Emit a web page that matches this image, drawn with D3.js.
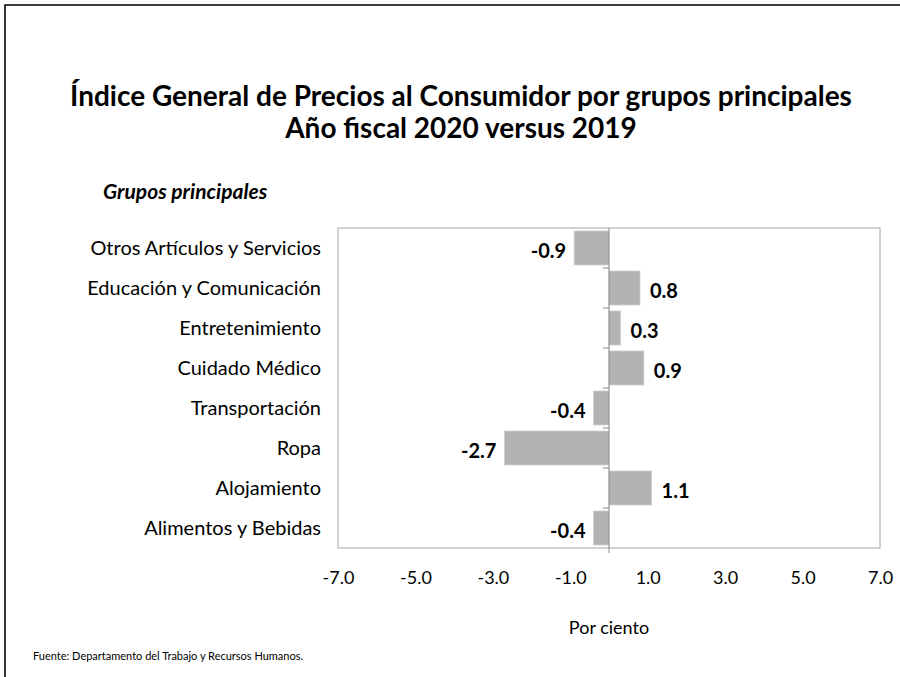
<!DOCTYPE html>
<html><head><meta charset="utf-8">
<script src="https://cdn.jsdelivr.net/npm/d3@7"></script>
<style>body{margin:0;background:#fff}svg{display:block}</style>
</head><body>
<script>
const categories = ["Otros Artículos y Servicios","Educación y Comunicación","Entretenimiento","Cuidado Médico","Transportación","Ropa","Alojamiento","Alimentos y Bebidas"];
const values = [-0.9, 0.8, 0.3, 0.9, -0.4, -2.7, 1.1, -0.4];
const tickValues = [-7, -5, -3, -1, 1, 3, 5, 7];
const titleLines = ["Índice General de Precios al Consumidor por grupos principales","Año fiscal 2020 versus 2019"];
const font = "Lato, 'Open Sans', sans-serif";

(function(){
const W = 900, H = 677;
const svg = d3.select("body").append("svg").attr("width", W).attr("height", H);
// outer frame
svg.append("path").attr("d", `M5,${H+5} L5,5 L${W+5},5`).attr("fill","none").attr("stroke","#000").attr("stroke-width",1.6);

const pL = 338, pR = 880, pT = 228, pB = 548;
const x = d3.scaleLinear().domain([-7, 7]).range([pL, pR]);
const y = d3.scaleBand().domain(categories).range([pT, pB]).paddingInner(0.15).paddingOuter(0.075);
const fmt = d => d3.format(".1f")(d).replace("\u2212", "-");

// title
svg.append("text").attr("font-family", font).attr("font-weight", "bold").attr("font-size", 28).attr("fill","#000")
  .attr("text-anchor","middle")
  .selectAll("tspan").data(titleLines).join("tspan")
  .attr("x", 461).attr("y", (d,i) => 106 + i*32).text(d => d);

svg.append("text").attr("x", 103).attr("y", 199).attr("font-family", font).attr("font-size", 21)
  .attr("font-weight","bold").attr("font-style","italic").text("Grupos principales");

// plot box
svg.append("rect").attr("x", pL).attr("y", pT).attr("width", pR-pL).attr("height", pB-pT)
  .attr("fill","none").attr("stroke","#a6a6a6").attr("stroke-width",1);

// bars
svg.append("g").selectAll("rect").data(values).join("rect")
  .attr("x", d => x(Math.min(0,d)))
  .attr("width", d => Math.abs(x(d)-x(0)))
  .attr("y", (d,i) => y(categories[i]))
  .attr("height", y.bandwidth())
  .attr("fill","#b2b2b2").attr("stroke","#d0d0d0").attr("stroke-width",0.8);

// zero axis with category boundary ticks
const bounds = d3.range(categories.length+1).map(i => pT + i*(pB-pT)/categories.length);
svg.append("line").attr("x1", x(0)).attr("x2", x(0)).attr("y1", pT).attr("y2", pB+5).attr("stroke","#868686").attr("stroke-width",1);
svg.append("g").selectAll("line").data(bounds.slice(1,-1)).join("line")
  .attr("x1", x(0)-6).attr("x2", x(0)).attr("y1", d=>d).attr("y2", d=>d).attr("stroke","#868686").attr("stroke-width",1);

// category labels
svg.append("g").selectAll("text").data(categories).join("text")
  .attr("x", 321).attr("y", d => y(d)+y.bandwidth()/2).attr("dy","0.35em")
  .attr("text-anchor","end").attr("font-family", font).attr("font-size", 20).attr("fill","#000").text(d => d);

// value labels
svg.append("g").selectAll("text").data(values).join("text")
  .attr("x", d => d < 0 ? x(d) - 8 : x(d) + 10)
  .attr("y", (d,i) => y(categories[i]) + y.bandwidth()/2 + 3).attr("dy","0.35em")
  .attr("text-anchor", d => d < 0 ? "end" : "start")
  .attr("font-family", font).attr("font-weight","bold").attr("font-size", 20).attr("fill","#000")
  .text(d => fmt(d));

// x tick labels
const xAxis = d3.axisBottom(x).tickValues(tickValues).tickSize(0).tickPadding(0).tickFormat(fmt);
const gx = svg.append("g").attr("transform", `translate(0,${pB+30})`).call(xAxis);
gx.select(".domain").remove();
gx.selectAll("text").attr("font-family", font).attr("font-size", 18).attr("fill","#000").attr("dy","0.35em");

svg.append("text").attr("x", 609).attr("y", 634).attr("text-anchor","middle").attr("font-family", font).attr("font-size", 18).text("Por ciento");
svg.append("text").attr("x", 33).attr("y", 660).attr("font-family", font).attr("font-size", 11).text("Fuente: Departamento del Trabajo y Recursos Humanos.");
})();
</script>
</body></html>
